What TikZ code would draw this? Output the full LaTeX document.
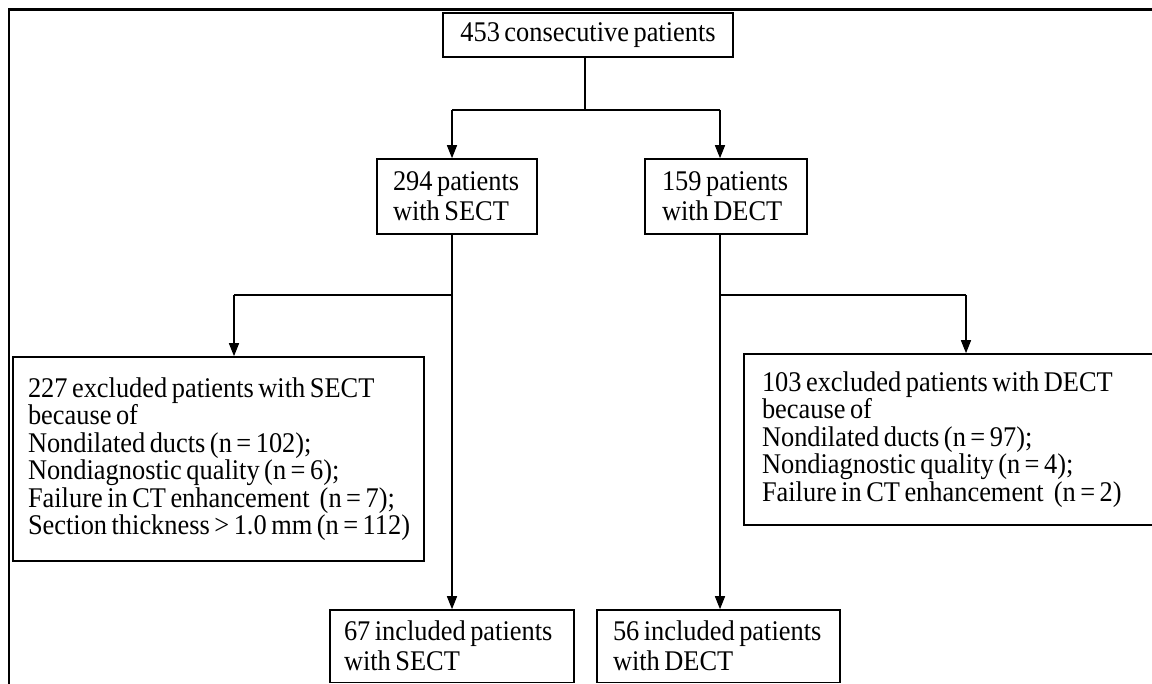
\documentclass[tikz,border=0pt]{standalone}
\usepackage{fontspec}
\setmainfont[FakeStretch=0.926]{Liberation Serif}
\usetikzlibrary{arrows.meta}
\newcommand{\ws}{\hspace{4.5pt}}
\newcommand{\wsw}{\hspace{10pt}}
\begin{document}
\begin{tikzpicture}[x=1pt,y=-1pt,
  box/.style={draw, line width=1.6pt, align=left, inner ysep=0pt,
    font=\fontsize{28.5}{30}\selectfont},
  exbox/.style={box, font=\fontsize{28.5}{27.5}\selectfont},
  conn/.style={line width=1.5pt},
  arr/.style={conn, -{Triangle[width=10pt,length=13pt]}}]
\useasboundingbox (0,0) rectangle (1152,684);
\clip (0,0) rectangle (1152,684);
\fill[white] (0,0) rectangle (1152,684);
\draw[line width=2.2pt] (9,9.5) rectangle (1175,705);
% boxes
\node[box, align=center, inner xsep=5pt, text width=280pt, minimum height=44pt] (top) at (588,35) {\mbox{453\ws consecutive\ws patients}};
\node[box, inner xsep=16pt, text width=128pt, minimum height=75pt] (sect) at (457,196.5) {\mbox{294\ws patients}\\\mbox{with\ws SECT}};
\node[box, inner xsep=17pt, text width=128pt, minimum height=75pt] (dect) at (726,196.5) {\mbox{159\ws patients}\\\mbox{with\ws DECT}};
\node[exbox, inner xsep=15pt, text width=381pt, minimum height=204pt] (exL) at (218.5,459) {\mbox{227\ws excluded\ws patients\ws with\ws SECT}\\\mbox{because\ws of}\\\mbox{Nondilated\ws ducts\ws (n\ws =\ws 102);}\\\mbox{Nondiagnostic\ws quality\ws (n\ws =\ws 6);}\\\mbox{Failure\ws in\ws CT\ws enhancement\wsw (n\ws =\ws 7);}\\\mbox{Section\ws thickness\ws >\ws 1.0\ws mm\ws (n\ws =\ws 112)}};
\node[exbox, inner xsep=18pt, text width=385pt, minimum height=171pt] (exR) at (954.5,439.5) {\mbox{103\ws excluded\ws patients\ws with\ws DECT}\\\mbox{because\ws of}\\\mbox{Nondilated\ws ducts\ws (n\ws =\ws 97);}\\\mbox{Nondiagnostic\ws quality\ws (n\ws =\ws 4);}\\\mbox{Failure\ws in\ws CT\ws enhancement\wsw (n\ws =\ws 2)}};
\node[box, inner xsep=14pt, text width=216pt, minimum height=72.5pt] (inL) at (452,646.25) {\mbox{67\ws included\ws patients}\\\mbox{with\ws SECT}};
\node[box, inner xsep=16pt, text width=211pt, minimum height=72.5pt] (inR) at (718.5,646.25) {\mbox{56\ws included\ws patients}\\\mbox{with\ws DECT}};
% connectors
\coordinate (j0) at (585,110);
\coordinate (jL) at (452,110);
\coordinate (jR) at (720,110);
\coordinate (bL) at (452,295);
\coordinate (bLL) at (234,295);
\coordinate (bR) at (720,295);
\coordinate (bRR) at (966,295);
\draw[conn] (top.south -| j0) -- (j0);
\draw[conn] (jL) -- (jR);
\draw[arr] (jL) -- (jL |- sect.north);
\draw[arr] (jR) -- (jR |- dect.north);
\draw[arr] (bL |- sect.south) -- (bL |- inL.north);
\draw[arr] (bR |- dect.south) -- (bR |- inR.north);
\draw[conn] (bL) -- (bLL);
\draw[arr] (bLL) -- (bLL |- exL.north);
\draw[conn] (bR) -- (bRR);
\draw[arr] (bRR) -- (bRR |- exR.north);
\end{tikzpicture}
\end{document}
